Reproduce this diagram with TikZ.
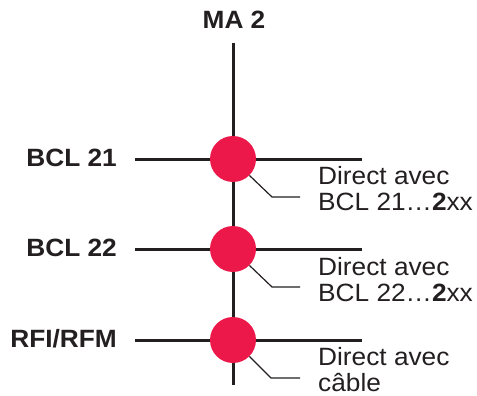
\documentclass[tikz,border=0pt]{standalone}
\usepackage{fontspec}
\setmainfont[FakeStretch=1.05]{Liberation Sans}
\definecolor{nodered}{RGB}{237,24,74}
\definecolor{ink}{RGB}{35,31,32}
\begin{document}
\begin{tikzpicture}[x=1pt,y=-1pt,
  busline/.style={draw=ink,line width=3pt},
  leader/.style={draw=ink,line width=1.2pt},
  junction/.style={circle,fill=nodered,minimum size=46pt,inner sep=0pt},
  leftlabel/.style={anchor=base east,inner sep=0pt,font=\fontsize{25}{27}\selectfont\bfseries,text=ink},
  notelabel/.style={anchor=north west,inner sep=0pt,align=left,font=\fontsize{25}{26.5}\selectfont,text=ink}]
\useasboundingbox (0,0) rectangle (477,396);
% bus coordinates
\coordinate (top) at (233,43);
\coordinate (bot) at (233,385);
\coordinate (l1) at (135,159); \coordinate (r1) at (362,159);
\coordinate (l2) at (135,249); \coordinate (r2) at (362,249);
\coordinate (l3) at (135,340); \coordinate (r3) at (362,340);
\draw[busline] (top) -- (bot);
\draw[busline] (l1) -- (r1);
\draw[busline] (l2) -- (r2);
\draw[busline] (l3) -- (r3);
% junctions
\node[junction] (c1) at (233,159) {};
\node[junction] (c2) at (233,249) {};
\node[junction] (c3) at (233,340) {};
% labels
\node[anchor=base,inner sep=0pt,font=\fontsize{25}{27}\selectfont\bfseries,text=ink] (ma) at (234,29) {MA 2};
\node[leftlabel] (b21) at (117,166) {BCL 21};
\node[leftlabel] (b22) at (117,256) {BCL 22};
\node[leftlabel] (rfi) at (117,347) {RFI/RFM};
% leaders
\coordinate (k1) at (272,197); \coordinate (e1) at (300,197);
\coordinate (k2) at (272,287); \coordinate (e2) at (300,287);
\coordinate (k3) at (271,378); \coordinate (e3) at (300,378);
\draw[leader] (c1.-45) -- (k1) -- (e1);
\draw[leader] (c2.-45) -- (k2) -- (e2);
\draw[leader] (c3.-45) -- (k3) -- (e3);
\node[notelabel] (n1) at (318,166) {Direct avec\\BCL 21…\textbf{2}xx};
\node[notelabel] (n2) at (318,257) {Direct avec\\BCL 22…\textbf{2}xx};
\node[notelabel] (n3) at (318,347) {Direct avec\\câble};
\end{tikzpicture}
\end{document}
